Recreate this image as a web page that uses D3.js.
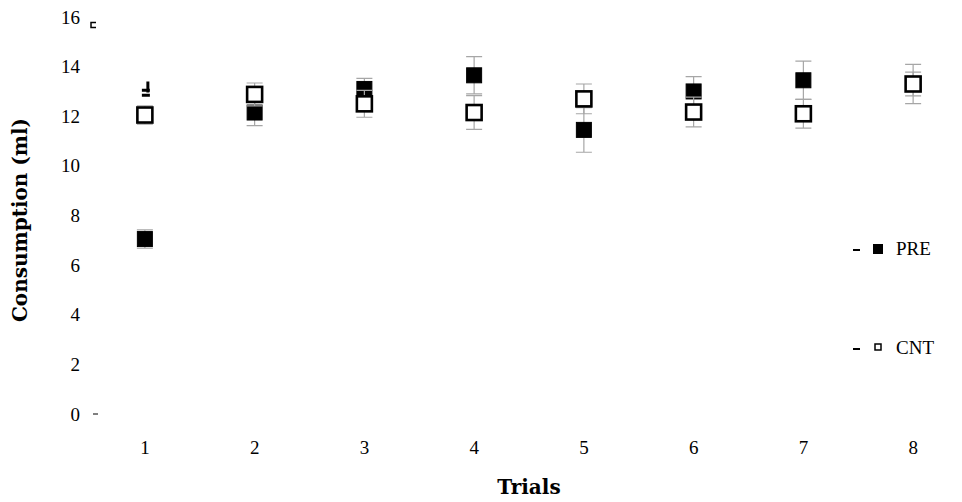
<!DOCTYPE html>
<html>
<head>
<meta charset="utf-8">
<script src="https://cdn.jsdelivr.net/npm/d3@7"></script>
<style>
  body { margin: 0; background: #fff; }
  text { font-family: "Liberation Serif", serif; }
</style>
</head>
<body>
<div id="chart"></div>
<script>
// data
var trials = ["1", "2", "3", "4", "5", "6", "7", "8"];
var pre = [7.05, 12.15, 13.1, 13.65, 11.45, 13.0, 13.45, 13.3];
var preErr = [0.37, 0.53, 0.43, 0.75, 0.9, 0.6, 0.77, 0.79];
var cnt = [12.05, 12.88, 12.5, 12.15, 12.7, 12.17, 12.1, 13.3];
var cntErr = [0.37, 0.46, 0.54, 0.68, 0.6, 0.6, 0.58, 0.48];
var yTicks = [0, 2, 4, 6, 8, 10, 12, 14, 16];
var seriesNames = ["PRE", "CNT"];

var width = 962, height = 502;

var svg = d3.select("#chart")
    .append("svg")
    .attr("width", width)
    .attr("height", height);

// scales
var x = d3.scaleBand()
    .domain(trials)
    .range([90, 968]);

var y = d3.scaleLinear()
    .domain([0, 16])
    .range([414, 17]);

// Y axis labels (no line, no ticks)
svg.append("g")
    .attr("transform", "translate(80,0)")
    .call(d3.axisLeft(y).tickValues(yTicks).tickSize(0).tickPadding(0))
    .call(g => g.select(".domain").remove())
    .selectAll("text")
    .style("font-size", "19px")
    .attr("fill", "#000")
    .attr("font-family", "Liberation Serif");

// X axis labels
svg.append("g")
    .attr("transform", "translate(0,440)")
    .call(d3.axisBottom(x).tickSize(0).tickPadding(0))
    .call(g => g.select(".domain").remove())
    .selectAll("text")
    .style("font-size", "19px")
    .attr("fill", "#000")
    .attr("font-family", "Liberation Serif");

// axis titles
svg.append("text")
    .attr("x", 529)
    .attr("y", 494)
    .attr("text-anchor", "middle")
    .style("font-family", "DejaVu Serif")
    .style("font-size", "20px")
    .style("font-weight", "bold")
    .text("Trials");

svg.append("text")
    .attr("transform", "translate(27," + 220 + ") rotate(-90)")
    .attr("text-anchor", "middle")
    .style("font-family", "DejaVu Serif")
    .style("font-size", "20px")
    .style("font-weight", "bold")
    .text("Consumption (ml)");

// small stray marks seen in the original
svg.append("path")
    .attr("d", "M" + 93 + "," + y(0) + "h5")
    .attr("stroke", "#000")
    .attr("stroke-width", 1);
svg.append("path")
    .attr("d", "M" + 96 + "," + (y(15.7) - 2) + "h-5v5h5")
    .attr("fill", "none")
    .attr("stroke", "#000")
    .attr("stroke-width", 1.5);
svg.append("path")
    .attr("d", "M" + (x("1") + x.bandwidth() / 2 + 3) + "," + y(13.4) + "v11 M" +
        (x("1") + x.bandwidth() / 2 - 3) + "," + y(13.05) + "h8 M" +
        (x("1") + x.bandwidth() / 2 - 3) + "," + y(12.85) + "h8")
    .attr("stroke", "#000")
    .attr("stroke-width", 3);

var cx = function (i) { return x(trials[i]) + x.bandwidth() / 2; };
var sq = 15, cap = 8;

// error bars + markers for each series (CNT drawn on top)
function drawSeries(values, errs, filled) {
    var g = svg.append("g");
    g.selectAll(".eb")
        .data(values)
        .enter()
        .append("path")
        .attr("fill", "none")
        .attr("stroke", "#a6a6a6")
        .attr("stroke-width", 1.2)
        .attr("d", function (d, i) {
            var top = y(d + errs[i]), bot = y(d - errs[i]), c = cx(i);
            return "M" + c + "," + top + "V" + bot +
                "M" + (c - cap) + "," + top + "h" + (2 * cap) +
                "M" + (c - cap) + "," + bot + "h" + (2 * cap);
        });
    g.selectAll(".pt")
        .data(values)
        .enter()
        .append("rect")
        .attr("x", function (d, i) { return cx(i) - sq / 2; })
        .attr("y", function (d) { return y(d) - sq / 2; })
        .attr("width", sq)
        .attr("height", sq)
        .attr("fill", filled ? "#000" : "#fff")
        .attr("stroke", "#000")
        .attr("stroke-width", filled ? 1 : 2.6);
}

drawSeries(pre, preErr, true);
drawSeries(cnt, cntErr, false);

// legend
var legend = svg.append("g");
var legY = [249, 348];
seriesNames.forEach(function (name, i) {
    var ly = legY[i];
    legend.append("path")
        .attr("d", "M" + 853 + "," + (ly + 1) + "h7")
        .attr("stroke", "#000")
        .attr("stroke-width", 2);
    if (i === 0) {
        legend.append("rect")
            .attr("x", 873).attr("y", ly - 5)
            .attr("width", 10).attr("height", 10)
            .attr("fill", "#000");
    } else {
        legend.append("rect")
            .attr("x", 875).attr("y", ly - 4)
            .attr("width", 6).attr("height", 6)
            .attr("fill", "#fff")
            .attr("stroke", "#000")
            .attr("stroke-width", 1.5);
    }
    legend.append("text")
        .attr("x", 896)
        .attr("y", ly + 6)
        .style("font-size", "19px")
        .text(name);
});
</script>
</body>
</html>
